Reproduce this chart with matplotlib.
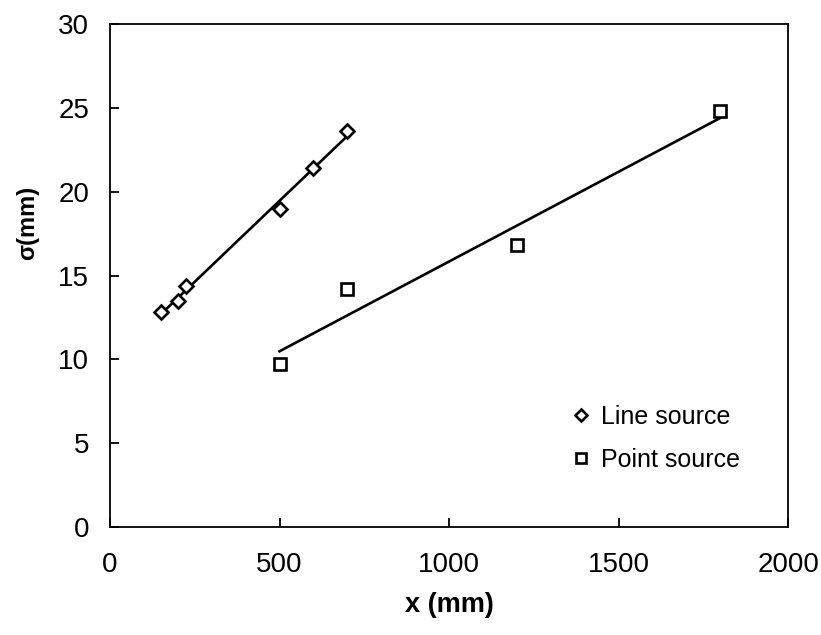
import numpy as np
import matplotlib
matplotlib.use('Agg')
import matplotlib.pyplot as plt

plt.rcParams['font.family'] = ['Liberation Sans', 'DejaVu Sans']

# Line source measurements
line_x = [150, 200, 225, 500, 600, 700]
line_sigma = [12.8, 13.5, 14.4, 19.0, 21.4, 23.6]

# Point source measurements
point_x = [500, 700, 1200, 1800]
point_sigma = [9.7, 14.2, 16.8, 24.8]

x_ticks = [0, 500, 1000, 1500, 2000]
y_ticks = [0, 5, 10, 15, 20, 25, 30]

fig = plt.figure(figsize = (8.21, 6.35), dpi = 100)
ax = fig.add_axes([0.134, 0.170, 0.826, 0.792])

# Linear fits drawn over each data range
for xs, ys in [(line_x, line_sigma), (point_x, point_sigma)]:
    k, b = np.polyfit(xs, ys, 1)
    fx = np.array([min(xs), max(xs)])
    ax.plot(fx, k * fx + b, color = 'black', lw = 1.9, zorder = 2)

ax.plot(line_x, line_sigma, linestyle = 'none', marker = 'D', markersize = 7.5,
        markerfacecolor = 'white', markeredgecolor = 'black', markeredgewidth = 1.9,
        label = 'Line source', zorder = 3)
ax.plot(point_x, point_sigma, linestyle = 'none', marker = 's', markersize = 8.5,
        markerfacecolor = 'white', markeredgecolor = 'black', markeredgewidth = 1.9,
        label = 'Point source', zorder = 3)

ax.set_xlim(0, 2000)
ax.set_ylim(0, 30)
ax.set_xticks(x_ticks)
ax.set_yticks(y_ticks)
ax.tick_params(direction = 'in', length = 6.5, width = 1.3, labelsize = 20)
ax.tick_params(axis = 'x', pad = 18)
ax.tick_params(axis = 'y', pad = 15)
for s in ax.spines.values():
    s.set_linewidth(1.3)

ax.set_xlabel('x (mm)', fontsize = 19.5, fontweight = 'bold', labelpad = 10)
ax.set_ylabel('σ(mm)', fontsize = 17, fontweight = 'bold')
ax.yaxis.set_label_coords(-0.105, 0.604)

ax.legend(loc = 'center left', bbox_to_anchor = (0.647, 0.176), frameon = False,
          fontsize = 18, handlelength = 0.8, handletextpad = 0.4, labelspacing = 0.75,
          markerscale = 0.8)

fig.savefig('out.png', dpi = 100)
